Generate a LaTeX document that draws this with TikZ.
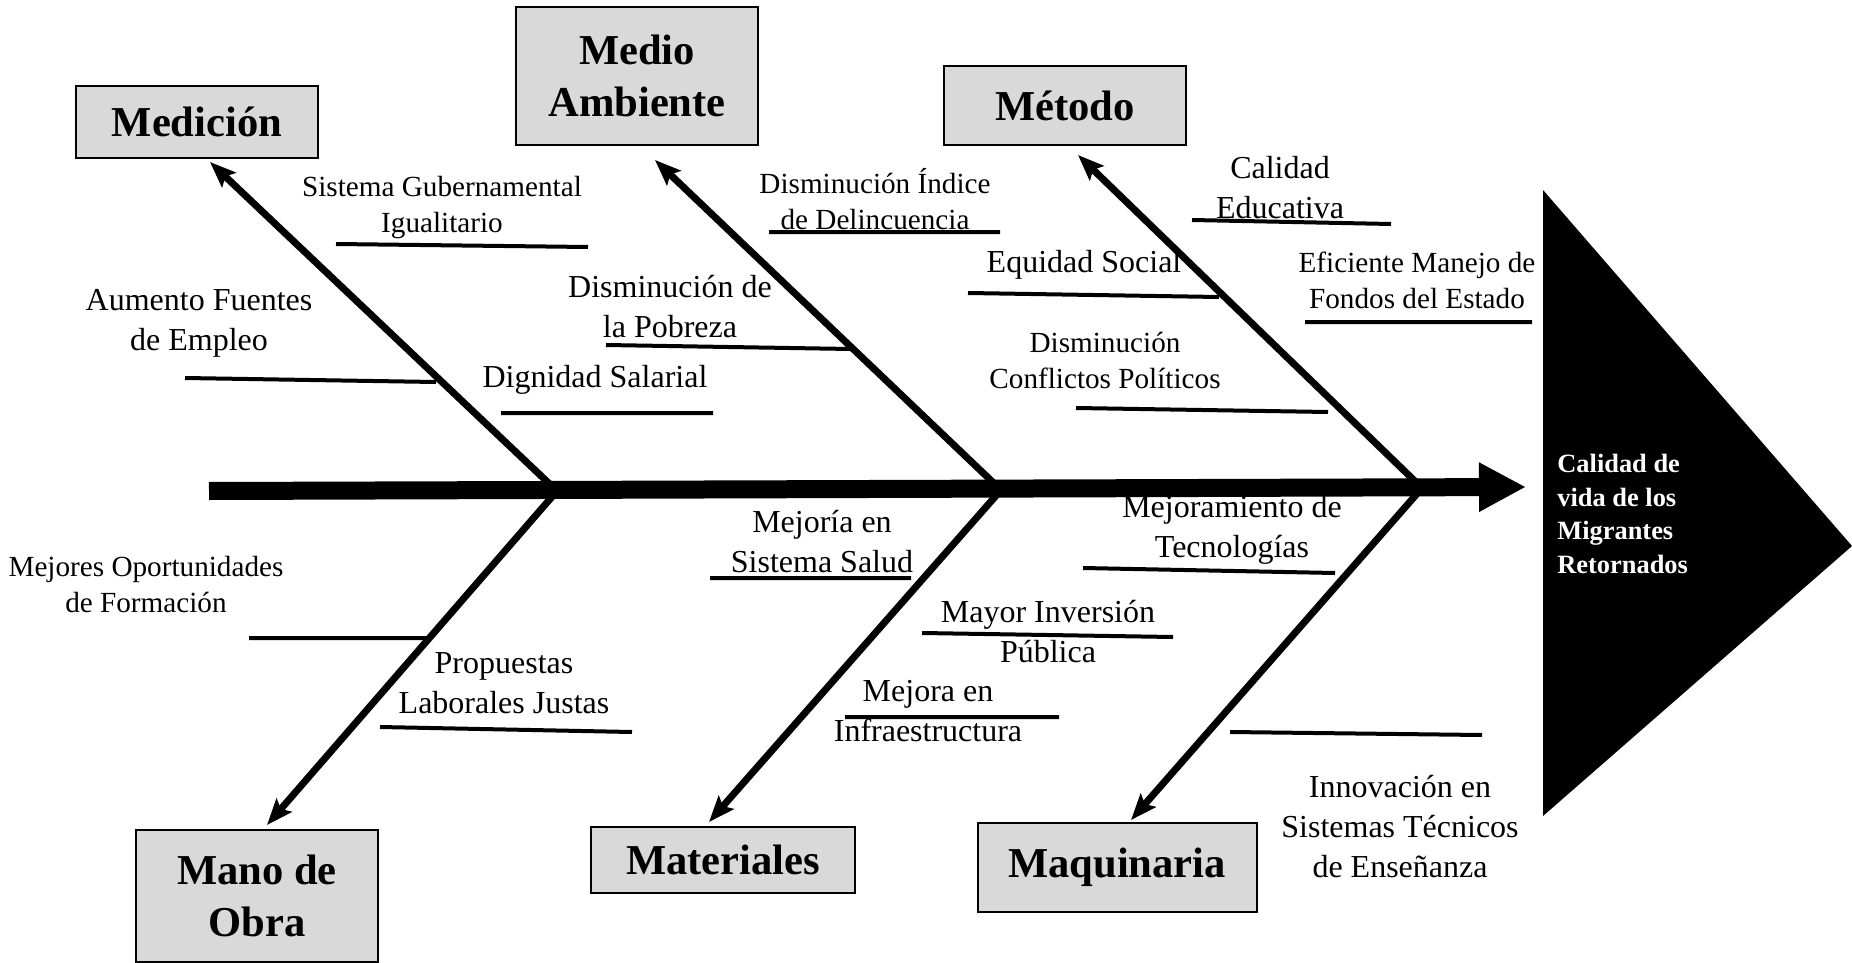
\documentclass[tikz,border=0pt]{standalone}
\usepackage{fontspec}
\setmainfont{Liberation Serif}
\usepackage{tikz}
\usetikzlibrary{arrows.meta}
\definecolor{boxgray}{HTML}{D9D9D9}

\begin{document}
\begin{tikzpicture}[
  x=0.5pt, y={(0pt,-0.5pt)},
  catbox/.style={draw,fill=boxgray,line width=1pt,align=center,inner sep=0pt,font=\bfseries\fontsize{21.3}{26}\selectfont},
  cause/.style={align=center,inner sep=0pt,font=\fontsize{16}{20}\selectfont},
  smallcause/.style={cause,font=\fontsize{14.6}{18}\selectfont},
  ]
  \tikzset{%
    spine/.style={
      line width=9pt,
      -{Triangle[length=23.5pt,width=23pt]},
    },
    bone/.style={
      line width=3.5pt,
      -{Stealth[length=13pt,width=10pt,inset=2.5pt]},
    },
    twig/.style={line width=2pt},
  }
  \useasboundingbox (0,0) rectangle (1852,963);
  %Head
  \fill (1543,190) -- (1852,546) -- (1543,816) -- cycle;
  \node[anchor=west,align=left,inner sep=0pt,text=white,font=\bfseries\fontsize{13.2}{16.8}\selectfont](efecto) at (1557,514) {Calidad de\\vida de los\\Migrantes\\Retornados};
  %Spine
  \coordinate (tail) at (209,491);
  \coordinate (head) at (1526,487);
  \coordinate (j1) at (557,491);
  \coordinate (j2) at (1001,490);
  \coordinate (j3) at (1422,488);
  \draw[spine] (tail) -- (head);
  %Categories
  \node[catbox,minimum width=121pt,minimum height=36pt](medicion) at (197,122) {Medición};
  \node[catbox,minimum width=121pt,minimum height=69pt](ambiente) at (637,76) {Medio\\Ambiente};
  \node[catbox,minimum width=121pt,minimum height=39.5pt](metodo) at (1065,106) {Método};
  \node[catbox,minimum width=121pt,minimum height=66pt](manoobra) at (257,896) {Mano de\\Obra};
  \node[catbox,minimum width=132pt,minimum height=33pt](materiales) at (723,860) {Materiales};
  \node[catbox,minimum width=139.5pt,minimum height=44.5pt](maquinaria) at (1117,867) {Maquinaria};
  %Bones
  \coordinate (tMed) at (210,162);
  \coordinate (tAmb) at (655,160);
  \coordinate (tMet) at (1078,155);
  \coordinate (tMan) at (267,825);
  \coordinate (tMat) at (709,822);
  \coordinate (tMaq) at (1131,820);
  \draw[bone] (j1) -- (tMed);
  \draw[bone] (j2) -- (tAmb);
  \draw[bone] (j3) -- (tMet);
  \draw[bone] (j1) -- (tMan);
  \draw[bone] (j2) -- (tMat);
  \draw[bone] (j3) -- (tMaq);
  %Causes
  \node[smallcause](gobierno) at (442,208) {Sistema Gubernamental\\Igualitario};
  \node[cause](empleo) at (199,323) {Aumento Fuentes\\de Empleo};
  \node[cause](salario) at (595,380) {Dignidad Salarial};
  \node[cause](pobreza) at (670,307) {Disminución de\\la Pobreza};
  \node[smallcause](delincuencia) at (875,199) {Disminución Índice\\de Delincuencia};
  \node[cause](educacion) at (1280,188) {Calidad\\Educativa};
  \node[cause](equidad) at (1084,265) {Equidad Social};
  \node[smallcause](fondos) at (1417,280) {Eficiente Manejo de\\Fondos del Estado};
  \node[smallcause](conflictos) at (1105,360) {Disminución\\Conflictos Políticos};
  \node[smallcause](formacion) at (146,585) {Mejores Oportunidades\\de Formación};
  \node[cause](propuestas) at (504,683) {Propuestas\\Laborales Justas};
  \node[cause](salud) at (822,542) {Mejoría en\\Sistema Salud};
  \node[cause](tecnologia) at (1232,530) {Mejoramiento de\\Tecnologías};
  \node[cause](inversion) at (1048,632) {Mayor Inversión\\Pública};
  \node[cause](infraestructura) at (928,711) {Mejora en\\Infraestructura};
  \node[cause](innovacion) at (1400,827) {Innovación en\\Sistemas Técnicos\\de Enseñanza};
  %Lines
  \draw[twig]
    (336,244) -- (588,247)
    (185,378) -- (436,382)
    (501,413) -- (713,413)
    (606,345) -- (851,349)
    (769,232) -- (1000,232)
    (1192,220) -- (1391,224)
    (968,293) -- (1219,297)
    (1305,322) -- (1532,322)
    (1076,408) -- (1328,412)
    (249,638) -- (427,638)
    (380,727) -- (632,732)
    (710,578) -- (911,578)
    (1083,568) -- (1335,573)
    (922,633) -- (1173,637)
    (845,717) -- (1059,717)
    (1230,732) -- (1482,735)
    ;
\end{tikzpicture}
\end{document}
